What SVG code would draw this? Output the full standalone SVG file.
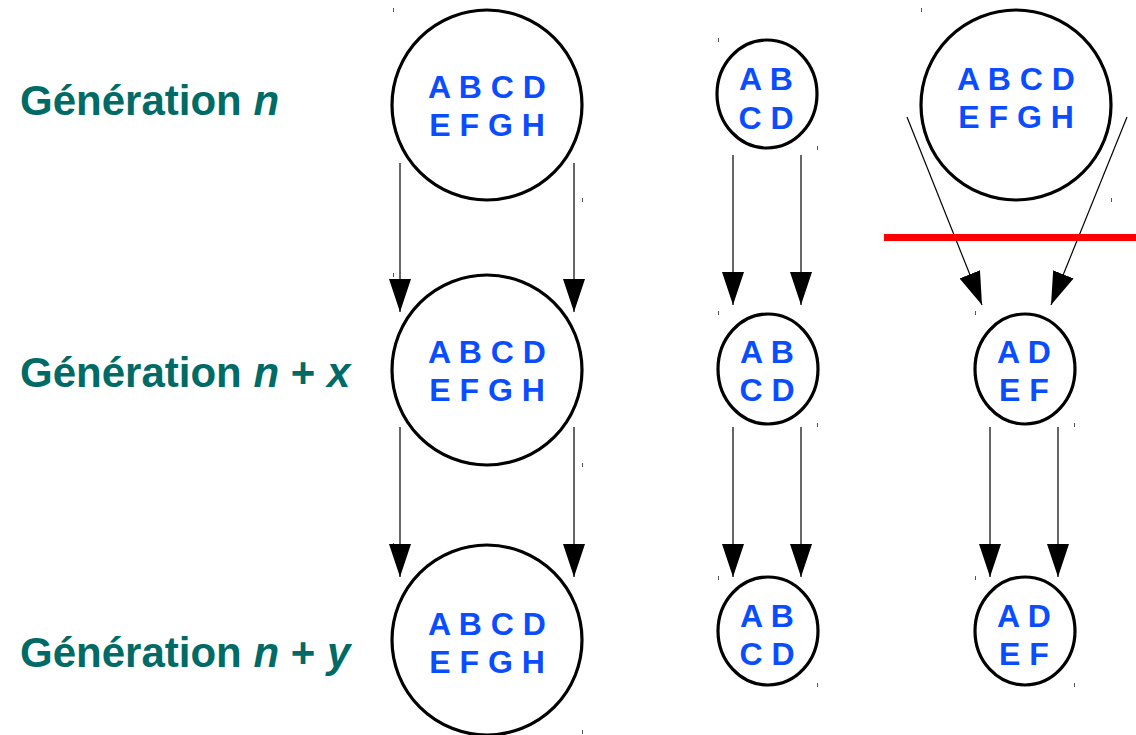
<svg xmlns="http://www.w3.org/2000/svg" width="1136" height="735" viewBox="0 0 1136 735">
<style>
.c{fill:#fff;stroke:#000;stroke-width:3.2}
.t{font-family:"Liberation Sans",Arial,sans-serif;font-weight:bold;font-size:32px;fill:#0a4dff;text-anchor:middle}
.l{font-family:"Liberation Sans",Arial,sans-serif;font-weight:bold;font-size:42px;fill:#006b66}
.a{stroke:#000;stroke-width:1.2;fill:none;marker-end:url(#ah)}
.k{stroke:#555;stroke-width:1}
</style>
<defs>
<marker id="ah" markerUnits="userSpaceOnUse" markerWidth="33" markerHeight="22" refX="33" refY="11" orient="auto">
<path d="M0,0 L33,11 L0,22 z" fill="#000"/>
</marker>
</defs>
<rect width="1136" height="735" fill="#fff"/>
<g id="labels">
<text class="l" x="20" y="115">Génération <tspan font-style="italic">n</tspan></text>
<text class="l" x="20" y="387">Génération <tspan font-style="italic">n</tspan> + <tspan font-style="italic">x</tspan></text>
<text class="l" x="20" y="667">Génération <tspan font-style="italic">n</tspan> + <tspan font-style="italic">y</tspan></text>
</g>
<g id="ticks">
<path class="k" d="M393.5,8v4M582.5,198v4M718.5,38v4M817.5,146v4M921.5,8v4M1111.5,198v4M393.5,273v4M582.5,463v4M718.5,311v4M817.5,423v4M975.5,311v4M1074.5,423v4M393.5,543v4M582.5,730v4M718.5,576v4M817.5,683v4M975.5,576v4M1074.5,683v4"/>
</g>
<g id="n1"><circle class="c" cx="487" cy="105" r="95"/><text class="t" x="487" y="98">A B C D</text><text class="t" x="487" y="136">E F G H</text></g>
<g id="n2"><ellipse class="c" cx="767" cy="94" rx="50" ry="54"/><text class="t" x="766" y="90">A B</text><text class="t" x="766" y="129">C D</text></g>
<g id="n3"><circle class="c" cx="1016" cy="105" r="95"/><text class="t" x="1016" y="90">A B C D</text><text class="t" x="1016" y="128">E F G H</text></g>
<g id="n4"><circle class="c" cx="487" cy="370" r="95"/><text class="t" x="487" y="363">A B C D</text><text class="t" x="487" y="401">E F G H</text></g>
<g id="n5"><ellipse class="c" cx="768" cy="369" rx="50" ry="55"/><text class="t" x="767" y="363">A B</text><text class="t" x="767" y="401">C D</text></g>
<g id="n6"><ellipse class="c" cx="1025" cy="369" rx="50" ry="55"/><text class="t" x="1024" y="363">A D</text><text class="t" x="1024" y="401">E F</text></g>
<g id="n7"><circle class="c" cx="487" cy="640" r="95"/><text class="t" x="487" y="635">A B C D</text><text class="t" x="487" y="673">E F G H</text></g>
<g id="n8"><ellipse class="c" cx="768" cy="631" rx="50" ry="54"/><text class="t" x="767" y="627">A B</text><text class="t" x="767" y="665">C D</text></g>
<g id="n9"><ellipse class="c" cx="1025" cy="631" rx="50" ry="54"/><text class="t" x="1024" y="627">A D</text><text class="t" x="1024" y="665">E F</text></g>
<g id="connectors">
<line class="a" x1="400" y1="163" x2="400" y2="312"/>
<line class="a" x1="574" y1="163" x2="574" y2="312"/>
<line class="a" x1="400" y1="427" x2="400" y2="577"/>
<line class="a" x1="574" y1="427" x2="574" y2="577"/>
<line class="a" x1="733" y1="155" x2="733" y2="305"/>
<line class="a" x1="801" y1="155" x2="801" y2="305"/>
<line class="a" x1="733" y1="427" x2="733" y2="577"/>
<line class="a" x1="801" y1="427" x2="801" y2="577"/>
<line class="a" x1="990" y1="427" x2="990" y2="577"/>
<line class="a" x1="1058" y1="427" x2="1058" y2="577"/>
<line class="a" x1="907" y1="117" x2="982" y2="305"/>
<line class="a" x1="1127" y1="117" x2="1051" y2="305"/>
</g>
<line id="cut" x1="884" y1="237.5" x2="1136" y2="237.5" stroke="#ff0000" stroke-width="7"/>
</svg>
